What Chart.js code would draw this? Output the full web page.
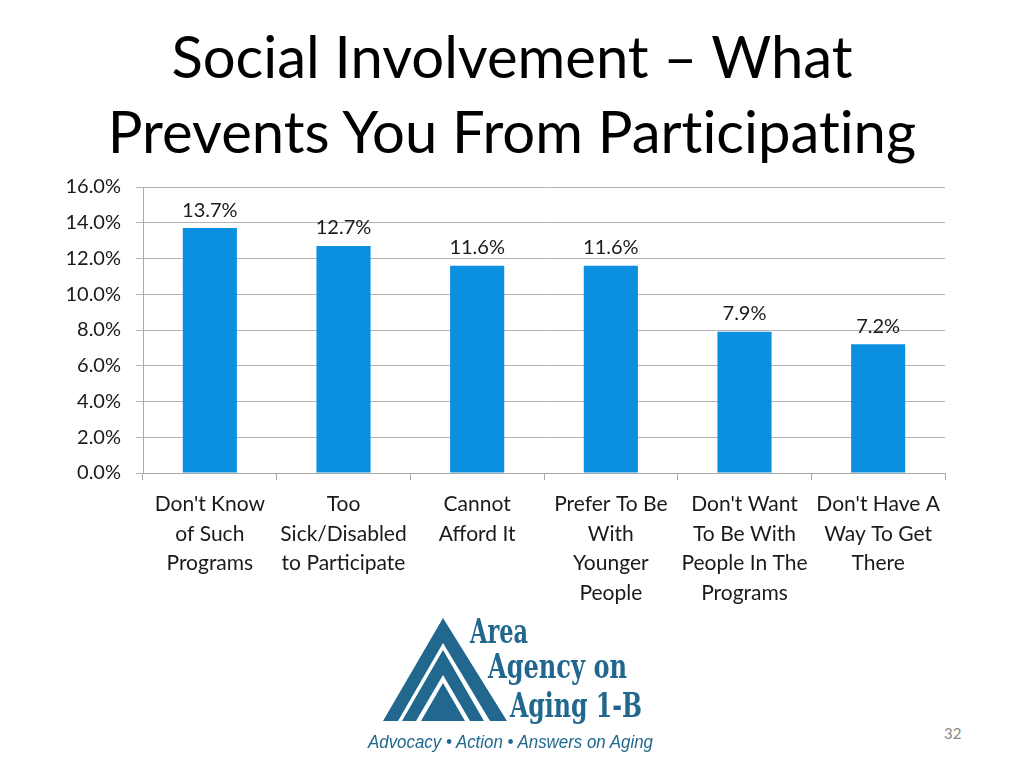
<!DOCTYPE html>
<html>
<head>
<meta charset="utf-8">
<script src="https://cdn.jsdelivr.net/npm/chart.js@4/dist/chart.umd.min.js"></script>
<style>
  body { margin: 0; width: 1024px; height: 768px; background: #fff; position: relative; overflow: hidden; font-family: Lato, "Open Sans", sans-serif; }
  h1 { position: absolute; left: 0; top: 18px; width: 1024px; margin: 0; text-align: center; font-weight: normal; font-size: 58px; line-height: 75px; color: #000; font-variant-ligatures: none; font-feature-settings: "liga" 0; }
  #wrap { position: absolute; left: 0; top: 170px; width: 960px; height: 450px; }
  #logo { position: absolute; left: 360px; top: 610px; }
  #page { position: absolute; left: 944px; top: 724px; font-size: 15px; color: #8a8a8a; }
</style>
</head>
<body>
<h1>Social Involvement – What<br>Prevents You From Participating</h1>
<div id="wrap"><canvas id="chart"></canvas></div>

<svg id="logo" width="310" height="150" viewBox="360 610 310 150">
  <g fill="#22688e">
    <polygon points="443,618 383,721 398,721 443,643 490,721 507,721"/>
    <polygon points="443,650 402,721 416,721 443,675 470,721 484,721"/>
    <polygon points="443,683 421,721 465,721"/>
  </g>
  <g fill="#22688e" font-family="'DejaVu Serif Condensed', 'DejaVu Serif', serif" font-weight="bold" font-size="34">
    <text x="470" y="643" textLength="58" lengthAdjust="spacingAndGlyphs">Area</text>
    <text x="488" y="678" textLength="139" lengthAdjust="spacingAndGlyphs">Agency on</text>
    <text x="510" y="717" textLength="132" lengthAdjust="spacingAndGlyphs">Aging 1-B</text>
  </g>
  <text x="368" y="748" fill="#22688e" font-family="'Liberation Sans', sans-serif" font-style="italic" font-size="18" textLength="285" lengthAdjust="spacingAndGlyphs">Advocacy • Action • Answers on Aging</text>
</svg>

<div id="page">32</div>

<script>
const categories = [
  ["Don't Know", "of Such", "Programs"],
  ["Too", "Sick/Disabled", "to Participate"],
  ["Cannot", "Afford It"],
  ["Prefer To Be", "With", "Younger", "People"],
  ["Don't Want", "To Be With", "People In The", "Programs"],
  ["Don't Have A", "Way To Get", "There"]
];
const values = [13.7, 12.7, 11.6, 11.6, 7.9, 7.2];
const yTicks = [0, 2, 4, 6, 8, 10, 12, 14, 16];

const fontFamily = "Lato, 'Open Sans', sans-serif";

// draw the value above each bar
const valueLabels = {
  id: "valueLabels",
  afterDatasetsDraw(chart) {
    const ctx = chart.ctx;
    const meta = chart.getDatasetMeta(0);
    ctx.save();
    ctx.font = "20px " + fontFamily;
    ctx.fillStyle = "#1a1a1a";
    ctx.textAlign = "center";
    ctx.textBaseline = "middle";
    meta.data.forEach(function (bar, i) {
      ctx.fillText(values[i].toFixed(1) + "%", bar.x, bar.y - 18);
    });
    ctx.restore();
  },
};

new Chart(document.getElementById("chart"), {
  type: "bar",
  data: {
    labels: categories,
    datasets: [
      {
        data: values,
        backgroundColor: "#0b8fdf",
        borderWidth: 0,
        barPercentage: 0.405,
        categoryPercentage: 1,
      },
    ],
  },
  options: {
    responsive: true,
    maintainAspectRatio: false,
    animation: false,
    layout: { padding: { top: 17, right: 15, left: 0, bottom: 0 } },
    plugins: {
      legend: { display: false },
      tooltip: { enabled: false },
    },
    scales: {
      x: {
        offset: true,
        grid: {
          offset: true,
          drawOnChartArea: false,
          drawTicks: true,
          tickLength: 7,
          color: "#a8a8a8",
        },
        border: { color: "#a8a8a8" },
        ticks: {
          color: "#1a1a1a",
          font: { family: fontFamily, size: 21, lineHeight: 1.4 },
          padding: 10,
          maxRotation: 0,
          autoSkip: false,
        },
        afterFit: function (scale) {
          scale.height = 147;
          scale.paddingLeft = 0;
          scale.paddingRight = 0;
        },
      },
      y: {
        min: 0,
        max: 16,
        afterBuildTicks: function (scale) {
          scale.ticks = yTicks.map(function (v) { return { value: v }; });
        },
        grid: {
          color: "#b4b4b4",
          tickLength: 7,
        },
        border: { color: "#a8a8a8" },
        ticks: {
          color: "#1a1a1a",
          font: { family: fontFamily, size: 20 },
          padding: 15,
          callback: function (value) {
            return value.toFixed(1) + "%";
          },
        },
        afterFit: function (scale) {
          scale.width = 143;
          scale.paddingTop = 0;
          scale.paddingBottom = 0;
        },
      },
    },
  },
  plugins: [valueLabels],
});
</script>
</body>
</html>
